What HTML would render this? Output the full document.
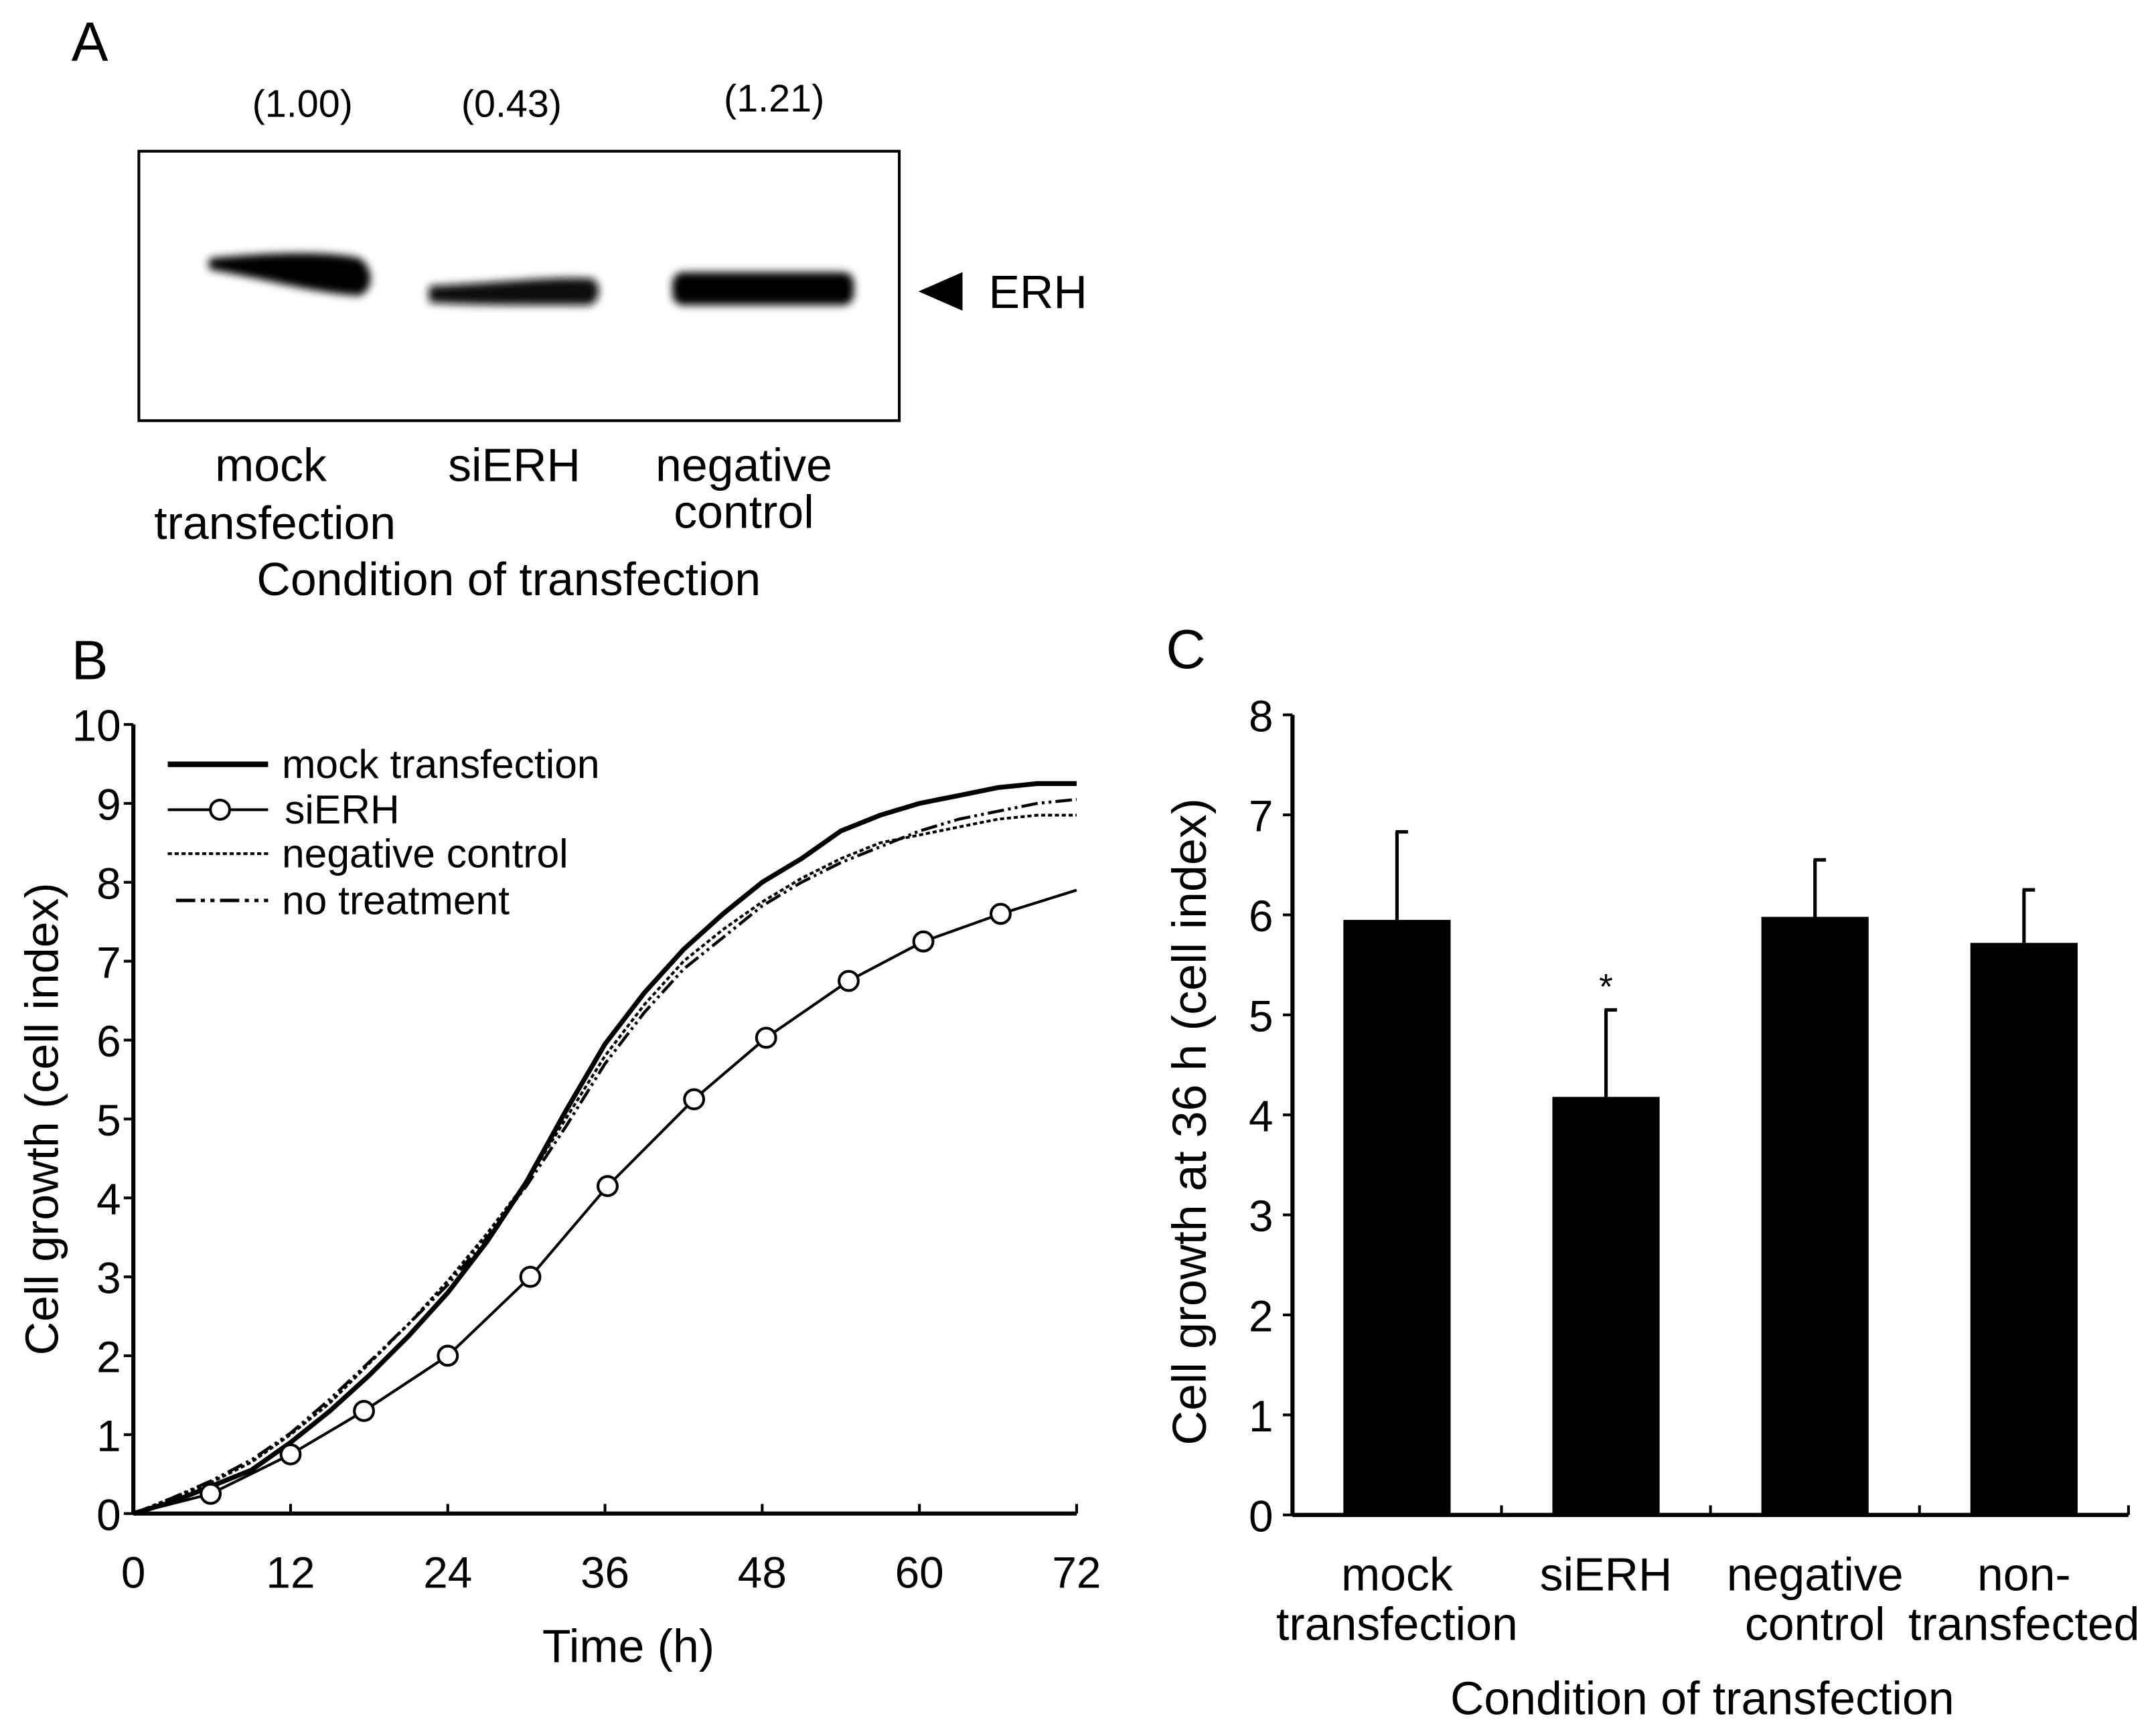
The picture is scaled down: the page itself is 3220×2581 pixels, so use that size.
<!DOCTYPE html>
<html><head><meta charset="utf-8">
<style>
html,body{margin:0;padding:0;background:#fff;}
svg{display:block;}
text{font-family:"Liberation Sans",Arial,sans-serif;fill:#000;}
</style></head>
<body>
<svg id="fig" width="3220" height="2581" viewBox="0 0 1568 1257" preserveAspectRatio="none" xmlns="http://www.w3.org/2000/svg">
<defs>
<filter id="blur" x="-20%" y="-50%" width="140%" height="200%"><feGaussianBlur stdDeviation="3"/></filter>
</defs>
<!-- Panel A -->
<g>
<text x="52" y="44" font-size="40">A</text>
<text x="220" y="85" font-size="28" text-anchor="middle">(1.00)</text>
<text x="372" y="85" font-size="28" text-anchor="middle">(0.43)</text>
<text x="563" y="81" font-size="28" text-anchor="middle">(1.21)</text>
<rect x="101" y="110" width="553" height="196" fill="#fff" stroke="#000" stroke-width="2"/>
<g filter="url(#blur)">
<path d="M152 188 C190 184 240 182 262 188 C272 196 272 210 262 215 C230 214 190 202 152 196 Z" fill="#000"/>
<path d="M312 208 C360 206 410 200 432 203 C438 210 436 220 428 222 C380 222 340 222 312 220 Z" fill="#111"/>
<rect x="489" y="198" width="132" height="24" rx="8" fill="#000"/>
</g>
<polygon points="668,212 700,198 700,226" fill="#000"/>
<text x="719" y="224" font-size="34">ERH</text>
<g font-size="34" text-anchor="middle">
<text x="197" y="350">mock</text>
<text x="200" y="392">transfection</text>
<text x="374" y="350">siERH</text>
<text x="541" y="350">negative</text>
<text x="541" y="384">control</text>
<text x="370" y="433">Condition of transfection</text>
</g>
</g>
<!-- Panel B -->
<g id="pb">
<text x="52" y="494" font-size="40">B</text>
<text x="457" y="1209" font-size="34" text-anchor="middle">Time (h)</text>
<text transform="translate(42,814) rotate(-90)" font-size="34" text-anchor="middle">Cell growth  (cell index)</text>
<g font-size="29.5">
<line x1="122" y1="556" x2="195" y2="556" stroke="#000" stroke-width="4"/>
<text x="205" y="566">mock transfection</text>
<line x1="122" y1="589" x2="195" y2="589" stroke="#000" stroke-width="2"/>
<circle cx="160" cy="589" r="7" fill="#fff" stroke="#000" stroke-width="2"/>
<text x="207" y="599">siERH</text>
<line x1="122" y1="621" x2="195" y2="621" stroke="#000" stroke-width="2" stroke-dasharray="3,2"/>
<text x="205" y="631">negative control</text>
<line x1="128" y1="655" x2="195" y2="655" stroke="#000" stroke-width="2.5" stroke-dasharray="14,4,3,4,3,4"/>
<text x="205" y="665">no treatment</text>
</g>
</g>
<!-- Panel C -->
<g id="pc">
<text x="848" y="486" font-size="40">C</text>
<text transform="translate(877,816) rotate(-90)" font-size="35" text-anchor="middle">Cell growth at 36 h (cell index)</text>
<text x="1238" y="1247" font-size="34" text-anchor="middle">Condition of transfection</text>
</g>
</svg>
<script>
// ---------- Panel B data ----------
const bTimes = [0,3,6,9,12,15,18,21,24,27,30,33,36,39,42,45,48,51,54,57,60,63,66,69,72];
const mockVals = [0,0.15,0.35,0.55,0.9,1.3,1.75,2.25,2.8,3.45,4.2,5.1,5.95,6.6,7.15,7.6,8.0,8.3,8.65,8.85,9.0,9.1,9.2,9.25,9.25];
const negVals = [0,0.2,0.4,0.65,1.0,1.4,1.9,2.4,2.95,3.55,4.2,5.0,5.8,6.45,7.0,7.4,7.75,8.05,8.3,8.5,8.6,8.7,8.8,8.85,8.85];
const noTreatVals = [0,0.2,0.42,0.68,1.02,1.45,1.92,2.4,2.9,3.5,4.15,4.9,5.7,6.35,6.9,7.3,7.7,8.0,8.25,8.45,8.65,8.8,8.9,9.0,9.05];
const siTimes = [0,5.9,12,17.6,24,30.3,36.2,42.8,48.3,54.6,60.3,66.2,72];
const siVals = [0,0.25,0.75,1.3,2.0,3.0,4.15,5.25,6.03,6.75,7.25,7.6,7.9];
const siMarkerIdx = [1,2,3,4,5,6,7,8,9,10,11];
const bXTicks = [0,12,24,36,48,60,72];
const bYTicks = [0,1,2,3,4,5,6,7,8,9,10];
// ---------- Panel C data ----------
const cCategories = [["mock","transfection"],["siERH"],["negative","control"],["non-","transfected"]];
const cValues = [5.95,4.18,5.98,5.72];
const cErrTop = [6.83,5.05,6.55,6.25];
const cSignif = [false,true,false,false];
const cYTicks = [0,1,2,3,4,5,6,7,8];

const NS = "http://www.w3.org/2000/svg";
function mk(tag, attrs, parent){const e=document.createElementNS(NS,tag);for(const k in attrs)e.setAttribute(k,attrs[k]);parent.appendChild(e);return e;}

const pb = document.getElementById('pb');
const bx = t => 97 + t*(783-97)/72;
const by = v => 1101 - v*(1101-527)/10;
let e;
e = mk('line',{x1:bx(0),y1:by(0),x2:bx(0),y2:by(10),stroke:'#000','stroke-width':3},pb);


e = mk('line',{x1:bx(0),y1:by(0),x2:bx(72),y2:by(0),stroke:'#000','stroke-width':3},pb);


bYTicks.forEach(v=>{
  const t = mk('line',{x1:bx(0)-7,y1:by(v),x2:bx(0),y2:by(v),stroke:'#000','stroke-width':2},pb);
  
  
  const l = mk('text',{x:bx(0)-9,y:by(v)+12,'font-size':32,'text-anchor':'end'},pb);
  l.textContent = v;
  
  
});
bXTicks.forEach(v=>{
  const t = mk('line',{x1:bx(v),y1:by(0),x2:bx(v),y2:by(0)-7,stroke:'#000','stroke-width':2},pb);
  
  
  const l = mk('text',{x:bx(v),y:1155,'font-size':32,'text-anchor':'middle'},pb);
  l.textContent = v;
  
  
});
function pathFrom(ts, vs){
  return ts.map((t,i)=>(i?'L':'M')+bx(t).toFixed(1)+' '+by(vs[i]).toFixed(1)).join(' ');
}
e = mk('path',{d:pathFrom(bTimes,noTreatVals),fill:'none',stroke:'#000','stroke-width':2.2,'stroke-dasharray':'12,3,2,3,2,3'},pb);


e = mk('path',{d:pathFrom(bTimes,negVals),fill:'none',stroke:'#000','stroke-width':2,'stroke-dasharray':'3,2'},pb);


e = mk('path',{d:pathFrom(bTimes,mockVals),fill:'none',stroke:'#000','stroke-width':3.5},pb);


e = mk('path',{d:pathFrom(siTimes,siVals),fill:'none',stroke:'#000','stroke-width':2},pb);


siMarkerIdx.forEach(i=>{
  const c = mk('circle',{cx:bx(siTimes[i]),cy:by(siVals[i]),r:7,fill:'#fff',stroke:'#000','stroke-width':2},pb);
  
  
});

const pc = document.getElementById('pc');
const cx0 = 940, cxEnd = 1548;
const catW = (cxEnd-cx0)/cCategories.length;
const cy = v => 1102 - v*(1102-520)/8;
e = mk('line',{x1:cx0,y1:cy(0),x2:cx0,y2:cy(8),stroke:'#000','stroke-width':3},pc);


e = mk('line',{x1:cx0,y1:cy(0),x2:cxEnd,y2:cy(0),stroke:'#000','stroke-width':3},pc);


cYTicks.forEach(v=>{
  const t = mk('line',{x1:cx0-7,y1:cy(v),x2:cx0,y2:cy(v),stroke:'#000','stroke-width':2},pc);
  
  
  const l = mk('text',{x:cx0-14,y:cy(v)+12,'font-size':32,'text-anchor':'end'},pc);
  l.textContent = v;
  
  
});
for(let i=1;i<=cCategories.length;i++){
  const t = mk('line',{x1:cx0+i*catW,y1:cy(0),x2:cx0+i*catW,y2:cy(0)-7,stroke:'#000','stroke-width':2},pc);
  
  
}
const barW = 78;
cCategories.forEach((lab,i)=>{
  const cxm = cx0 + (i+0.5)*catW;
  const el = mk('line',{x1:cxm,y1:cy(cValues[i]),x2:cxm,y2:cy(cErrTop[i]),stroke:'#000','stroke-width':2.5},pc);
  
  
  const cap = mk('line',{x1:cxm-1,y1:cy(cErrTop[i]),x2:cxm+8,y2:cy(cErrTop[i]),stroke:'#000','stroke-width':2.5},pc);
  
  
  const r = mk('rect',{x:cxm-barW/2,y:cy(cValues[i]),width:barW,height:cy(0)-cy(cValues[i]),fill:'#000'},pc);
  
  
  if(cSignif[i]){
    const s = mk('text',{x:cxm,y:cy(cErrTop[i])-8,'font-size':26,'text-anchor':'middle'},pc);
    s.textContent='*';
    
    
  }
  lab.forEach((line,j)=>{
    const t = mk('text',{x:cxm,y:1157+j*36,'font-size':34,'text-anchor':'middle'},pc);
    t.textContent=line;
    
    
  });
});
</script>
</body></html>
